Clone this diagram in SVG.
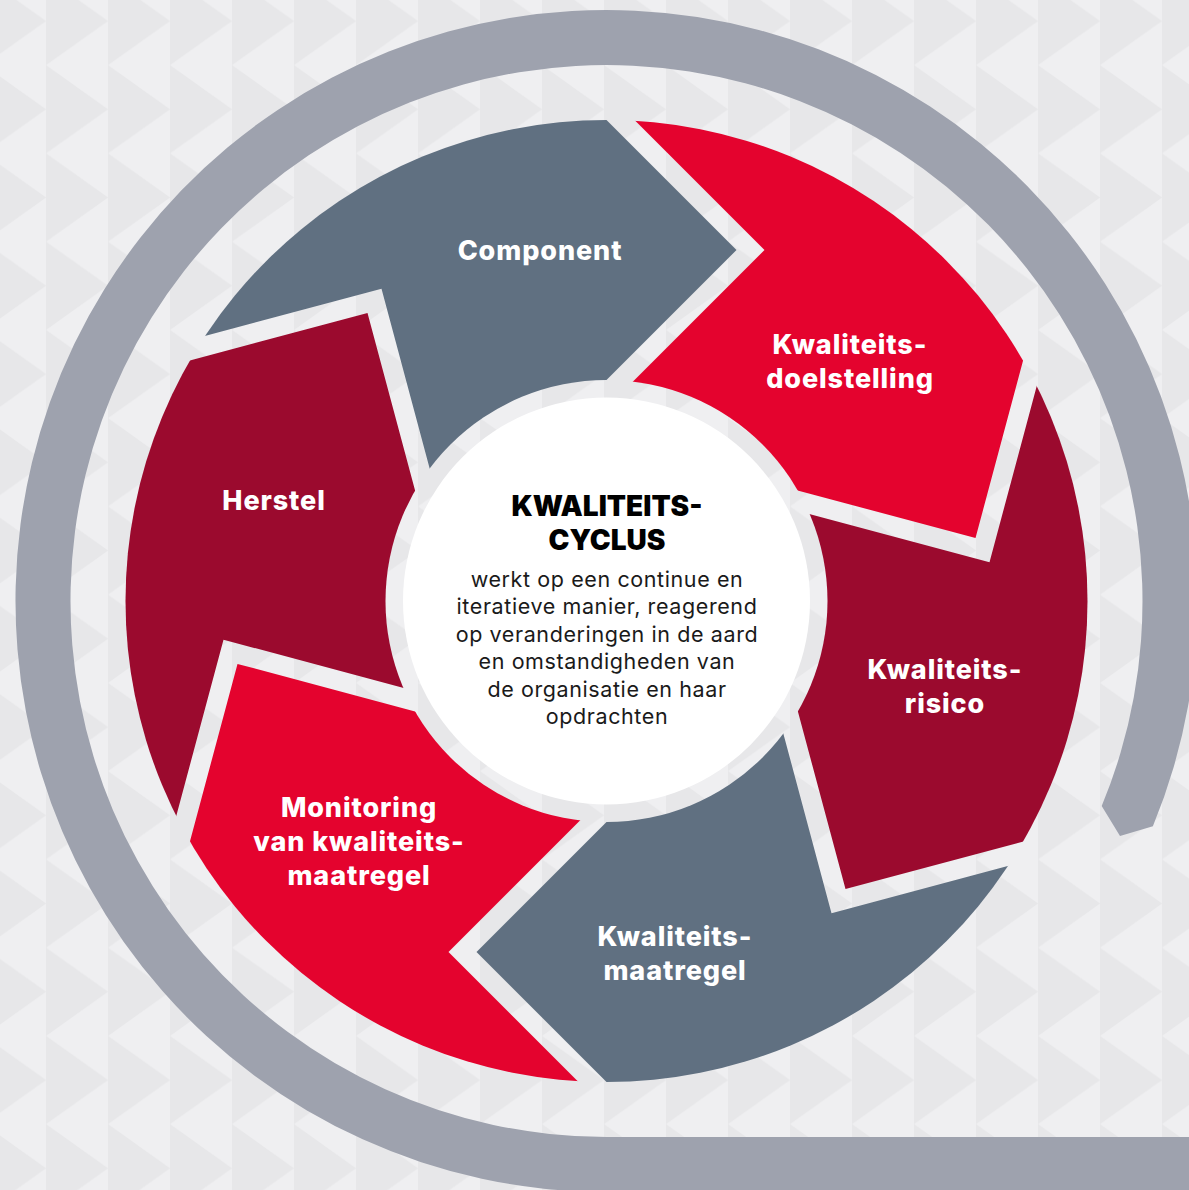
<svg xmlns="http://www.w3.org/2000/svg" width="1189" height="1190" viewBox="0 0 1189 1190">
  <defs>
    <pattern id="bg" patternUnits="userSpaceOnUse" x="-16" y="-23.1" width="62" height="88.25">
      <rect width="62" height="88.25" fill="#EFEFF1"/>
      <polygon points="0,0 62,44.1 0,88.25" fill="#E7E7E9"/>
    </pattern>
    <clipPath id="wheel">
      <circle cx="606.5" cy="601" r="481"/>
    </clipPath>
    <style>
      .lbl { font-family: Inter, "Open Sans", "Liberation Sans", sans-serif; font-weight: 800; font-size: 27px; letter-spacing: 0.9px; fill: #FFFFFF; text-anchor: middle; }
      .ttl { font-family: Inter, "Open Sans", "Liberation Sans", sans-serif; font-weight: 900; font-size: 28px; fill: #000000; text-anchor: middle; }
      .body { font-family: Inter, "Open Sans", "Liberation Sans", sans-serif; font-weight: 400; font-size: 21.5px; letter-spacing: 0.6px; fill: #1A1A1A; text-anchor: middle; }
      .gray { fill: #607081; }
      .red { fill: #E4032E; }
      .dred { fill: #9B0A2E; }
    </style>
  </defs>

  <rect x="0" y="0" width="1189" height="1190" fill="url(#bg)"/>

  <g id="outer-arc">
    <path d="M 1189 1192 L 606.5 1192 A 591 591 0 1 1 1152.9 826.2 L 1120 836 L 1101.7 806.1 A 536 536 0 1 0 606.5 1137 L 1189 1137 Z" fill="#9EA2AE"/>
  </g>

  <g id="segments" clip-path="url(#wheel)">
    <g id="node-component">
      <polygon class="gray" points="454.7,561.9 381.5,288.7 108.3,361.9 256.5,-5.2 536.5,50 736.5,250 536.5,450"/>
    </g>
    <g id="node-doelstelling">
      <polygon class="red" points="564.5,450 764.5,250 564.5,50 956.5,-5.2 1048.7,264.9 975.5,538.1 702.3,464.9"/>
    </g>
    <g id="node-risico">
      <polygon class="dred" points="716.3,489.1 989.5,562.3 1062.7,289.1 1306.5,601 1118.7,815.9 845.5,889.1 772.3,615.9"/>
    </g>
    <g id="node-maatregel">
      <polygon class="gray" points="758.3,640.1 831.5,913.3 1104.7,840.1 956.5,1207.2 676.5,1152 476.5,952 676.5,752"/>
    </g>
    <g id="node-monitoring">
      <polygon class="red" points="648.5,752 448.5,952 648.5,1152 256.5,1207.2 164.3,937.1 237.5,663.9 510.7,737.1"/>
    </g>
    <g id="node-herstel">
      <polygon class="dred" points="496.7,712.9 223.5,639.7 150.3,912.9 -93.5,601 94.3,386.1 367.5,312.9 440.7,586.1"/>
    </g>
  </g>

  <g id="center">
    <circle cx="606.5" cy="601" r="221" fill="url(#bg)"/>
    <circle cx="606.5" cy="601" r="203.5" fill="#FFFFFF"/>
    <text class="ttl" x="607" y="516">KWALITEITS-</text>
    <text class="ttl" x="607" y="550">CYCLUS</text>
    <text class="body" x="607" y="587">werkt op een continue en</text>
    <text class="body" x="607" y="614">iteratieve manier, reagerend</text>
    <text class="body" x="607" y="642">op veranderingen in de aard</text>
    <text class="body" x="607" y="669">en omstandigheden van</text>
    <text class="body" x="607" y="697">de organisatie en haar</text>
    <text class="body" x="607" y="724">opdrachten</text>
  </g>

  <g id="labels">
    <text class="lbl" x="540" y="260">Component</text>
    <text class="lbl" x="850" y="354">Kwaliteits-</text>
    <text class="lbl" x="850" y="388">doelstelling</text>
    <text class="lbl" x="945" y="679">Kwaliteits-</text>
    <text class="lbl" x="945" y="713">risico</text>
    <text class="lbl" x="675" y="946">Kwaliteits-</text>
    <text class="lbl" x="675" y="980">maatregel</text>
    <text class="lbl" x="359" y="817">Monitoring</text>
    <text class="lbl" x="359" y="851">van kwaliteits-</text>
    <text class="lbl" x="359" y="885">maatregel</text>
    <text class="lbl" x="274" y="510">Herstel</text>
  </g>
</svg>
